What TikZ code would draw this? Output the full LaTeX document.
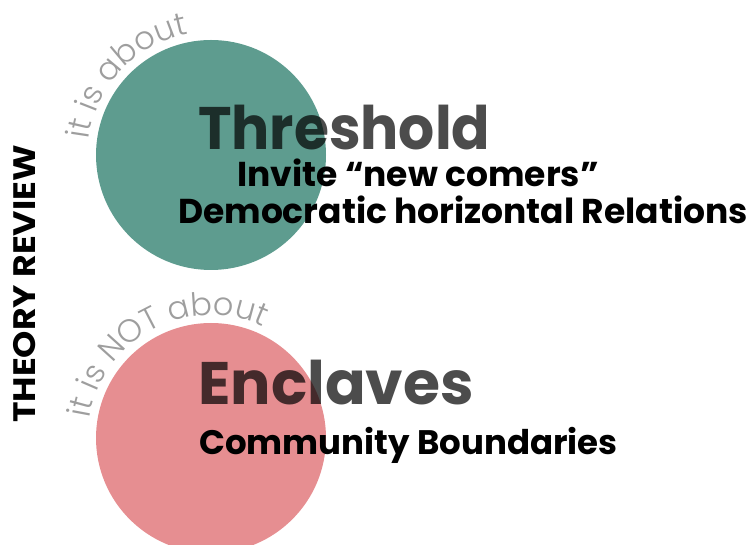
\documentclass[tikz,border=0pt]{standalone}
\usepackage{fontspec}
\setmainfont{Poppins}
\newfontfamily\lightf{Poppins Light}
\usetikzlibrary{decorations.text}
\definecolor{teal1}{HTML}{5E9C8F}
\definecolor{pink1}{HTML}{E68E91}
\definecolor{arcgray}{HTML}{9E9E9E}
\tikzset{
  bigtitle/.style={anchor=base west, inner sep=0pt, text=black, text opacity=0.7, font=\fontsize{60}{60}\selectfont\bfseries},
  subline/.style={anchor=base, inner sep=0pt, text=black, font=\fontsize{34.5}{34.5}\selectfont\bfseries},
  arctext/.style={decorate, decoration={text along path, text align=left, text={|\lightf\fontsize{32}{32}\selectfont\color{arcgray}|#1}}}
}
\begin{document}
\begin{tikzpicture}[x=1pt,y=1pt]
\useasboundingbox (0,0) rectangle (749,545);
\fill[teal1] (211,390) circle (115);
\fill[pink1] (211,107) circle (115);
\coordinate (c1) at (211,390);
\coordinate (c2) at (211,107);
\path[arctext={it is about}] ([shift={(173:123)}]c1) arc (173:30:123);
\path[arctext={it is NOT about}] ([shift={(171:123)}]c2) arc (171:10:123);
\node[bigtitle] (t1) at (198,395) {\scalebox{0.945}[1]{Threshold}};
\node[subline] (s1) at (418,358) {Invite “new comers”};
\node[subline] (s2) at (463,321) {Democratic horizontal Relations};
\node[bigtitle] (t2) at (198,140) {Enclaves};
\node[subline, anchor=base west, font=\fontsize{34}{34}\selectfont\bfseries] (s3) at (199,90) {Community Boundaries};
\node[rotate=90, inner sep=0pt, font=\fontsize{31}{31}\selectfont\bfseries] (tr) at (25,261) {\scalebox{1.12}[1]{THEORY REVIEW}};
\end{tikzpicture}
\end{document}
